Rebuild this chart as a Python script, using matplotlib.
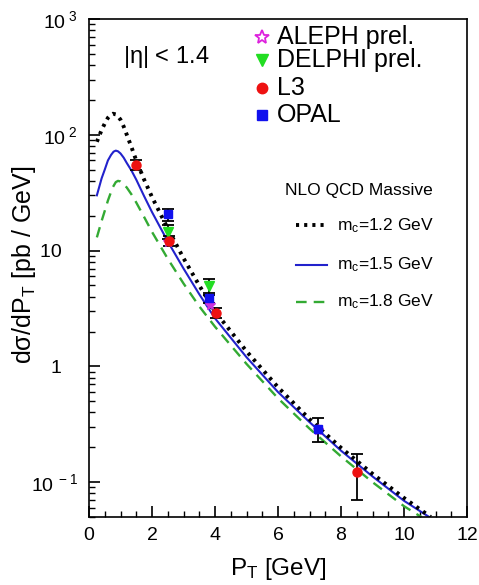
import matplotlib
matplotlib.use("Agg")
import matplotlib.pyplot as plt
from matplotlib.lines import Line2D
from matplotlib.ticker import FixedLocator, FixedFormatter, MultipleLocator

plt.rcParams['font.family'] = ['Liberation Sans', 'DejaVu Sans']
plt.rcParams['mathtext.fontset'] = 'custom'
plt.rcParams['mathtext.rm'] = 'Liberation Sans'
plt.rcParams['mathtext.it'] = 'Liberation Sans'

# NLO QCD massive curves
pt_12 = [0.25, 0.4, 0.5, 0.6, 0.68, 0.76, 0.85, 0.92, 1.0, 1.1, 1.2, 1.35, 1.5, 1.75, 2.0, 2.5, 3.0, 3.5, 4.0,
         5.0, 6.0, 7.0, 8.0, 9.0, 10.0, 10.85]
xs_12 = [87, 110, 125, 140, 148, 152, 150, 144, 135, 118, 100, 78, 60, 41, 29, 15.5, 8.6, 5.0, 2.98,
         1.35, 0.66, 0.35, 0.198, 0.118, 0.073, 0.05]
pt_15 = [0.25, 0.4, 0.5, 0.6, 0.7, 0.78, 0.85, 0.92, 1.0, 1.1, 1.2, 1.35, 1.5, 1.75, 2.0, 2.5, 3.0, 3.5, 4.0,
         5.0, 6.0, 7.0, 8.0, 9.0, 10.0, 10.8]
xs_15 = [30, 42, 50, 60, 67, 71.5, 73, 72, 69, 63.5, 57, 49, 41, 29.5, 21.5, 12, 7.0, 4.2, 2.6,
         1.2, 0.6, 0.33, 0.187, 0.112, 0.069, 0.05]
pt_18 = [0.25, 0.4, 0.5, 0.6, 0.75, 0.85, 0.92, 1.0, 1.1, 1.2, 1.35, 1.5, 1.75, 2.0, 2.5, 3.0, 3.5, 4.0,
         5.0, 6.0, 7.0, 8.0, 9.0, 10.0, 10.55]
xs_18 = [13, 18, 22, 27, 35, 39, 40, 39.5, 37.5, 35, 30.5, 26, 19.5, 14.5, 8.5, 5.2, 3.3, 2.2,
         1.05, 0.53, 0.29, 0.167, 0.10, 0.062, 0.05]

# data points
aleph_x = [2.5, 3.85, 7.27]
aleph_y = [11.9, 3.4, 0.28]
delphi_x = [2.5, 3.8]
delphi_y = [14.6, 4.9]
delphi_err = [2.0, 0.8]
l3_x = [1.5, 2.55, 4.03, 8.5]
l3_y = [55, 12.2, 2.9, 0.122]
l3_err = [5, 1.2, 0.3, 0.052]
opal_x = [2.5, 3.8, 7.27]
opal_y = [20.5, 3.9, 0.29]
opal_err = [2.5, 0.4, 0.07]

fig = plt.figure(figsize=(4.79, 5.85), dpi=100)
ax = fig.add_axes([89 / 479, 1 - 517 / 585, 378 / 479, 498 / 585])

dot_ls = (0, (0.8, 1.3))
dash_ls = (0, (4.5, 3))
ax.plot(pt_15, xs_15, color='#2222cc', lw=1.5, ls='-')
ax.plot(pt_18, xs_18, color='#33aa33', lw=1.7, ls=dash_ls)
ax.plot(pt_12, xs_12, color='black', lw=2.8, ls=dot_ls)

ek = dict(ecolor='black', elinewidth=1.3, capsize=4, capthick=1.3, ls='none')
ax.errorbar(delphi_x, delphi_y, yerr=delphi_err, marker='v', ms=7, color='#22dd22', mec='#22dd22', **ek)
ax.errorbar(opal_x, opal_y, yerr=opal_err, marker='s', ms=6, color='#1111ee', mec='#1111ee', **ek)
ax.errorbar(l3_x, l3_y, yerr=l3_err, marker='o', ms=6.5, color='#ee1111', mec='#ee1111', **ek)
ax.plot(aleph_x, aleph_y, ls='none', marker='*', ms=8, color='#cc33dd', mec='#cc33dd')

ax.set_yscale('log')
ax.set_xlim(0, 12)
ax.set_ylim(0.05, 1000)
ax.xaxis.set_major_locator(MultipleLocator(2))
ax.xaxis.set_minor_locator(MultipleLocator(0.5))
ax.yaxis.set_major_locator(FixedLocator([0.1, 1, 10, 100, 1000]))
ax.yaxis.set_major_formatter(FixedFormatter([r'$10^{\ -1}$', '1   ', '10   ', r'$10^{\ 2}$', r'$10^{\ 3}$']))
ax.tick_params(axis='both', which='both', direction='in', top=False, right=False, labelsize=14, color='black')
ax.tick_params(axis='both', which='major', length=8, width=1.2)
ax.tick_params(axis='both', which='minor', length=4, width=1.0)
ax.tick_params(axis='y', pad=8)
ax.tick_params(axis='x', pad=7)
for s in ax.spines.values():
    s.set_linewidth(1.2)

ax.set_xlabel(r'P$_\mathrm{T}$ [GeV]', fontsize=17.5, labelpad=9)
ax.set_ylabel(r'd$\sigma$/dP$_\mathrm{T}$ [pb / GeV]', fontsize=18)
ax.yaxis.set_label_coords(-0.135, 0.506)

ax.text(0.09, 0.924, r'|$\eta$| < 1.4', transform=ax.transAxes, fontsize=17, va='center')

# experiment legend (manual placement)
labels1 = ['ALEPH prel.', 'DELPHI prel.', 'L3', 'OPAL']
ys1 = [0.964, 0.918, 0.861, 0.807]
mk = [dict(marker='*', ms=10, mfc='white', mec='#dd22dd', mew=1.3),
      dict(marker='v', ms=8, color='#22dd22'),
      dict(marker='o', ms=7.5, color='#ee1111'),
      dict(marker='s', ms=7, color='#1111ee')]
for lab, yy, m in zip(labels1, ys1, mk):
    ax.plot([0.458], [yy], transform=ax.transAxes, ls='none', clip_on=False, **m)
    ax.text(0.497, yy, lab, transform=ax.transAxes, fontsize=18, va='center', ha='left')

# theory legend (manual placement)
ax.text(0.91, 0.656, 'NLO QCD Massive', transform=ax.transAxes, fontsize=12.5, va='center', ha='right')
labels2 = [r'm$_\mathrm{c}$=1.2 GeV', r'm$_\mathrm{c}$=1.5 GeV', r'm$_\mathrm{c}$=1.8 GeV']
ys2 = [0.586, 0.506, 0.432]
sty = [dict(color='black', lw=2.8, ls=dot_ls), dict(color='#2222cc', lw=1.5, ls='-'),
       dict(color='#33aa33', lw=1.7, ls=dash_ls)]
for lab, yy, s in zip(labels2, ys2, sty):
    ax.plot([0.548, 0.630], [yy, yy], transform=ax.transAxes, **s)
    ax.text(0.656, yy, lab, transform=ax.transAxes, fontsize=12.5, va='center', ha='left')

fig.savefig('out.png', dpi=100)
